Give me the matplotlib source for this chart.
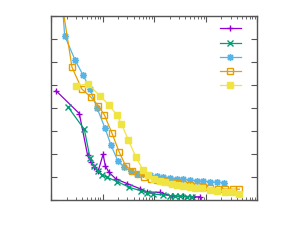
import matplotlib
matplotlib.use('Agg')
import matplotlib.pyplot as plt
from matplotlib.ticker import LogLocator, NullFormatter, MultipleLocator

# 数据
x_purple = [1.25, 3.53, 5.1, 5.96, 6.81, 8.15, 10.2, 11.3, 13.3, 18.2, 30.1, 53.1,
            71.6, 129, 218, 366, 572, 772]
y_purple = [4.75, 3.76, 1.96, 1.65, 1.43, 1.24, 1.98, 1.48, 1.20, 0.91, 0.71, 0.49,
            0.35, 0.33, 0.17, 0.16, 0.14, 0.14]

x_green = [2.16, 4.42, 5.70, 6.72, 8.15, 9.87, 12.4, 19.3, 32.9, 55.5, 73.5, 96.1,
           150, 202, 253, 316, 427, 533]
y_green = [4.03, 3.07, 1.83, 1.48, 1.24, 1.09, 0.98, 0.80, 0.55, 0.40, 0.32, 0.26,
           0.22, 0.19, 0.17, 0.16, 0.15, 0.14]

x_blue = [1.60, 1.84, 2.92, 4.17, 5.70, 7.79, 11.1, 14.5, 19.6, 26.4, 35.5, 46.4,
          61.5, 83, 112, 150, 202, 273, 366, 494, 666, 894, 1206, 1626, 2254]
y_blue = [9.0, 7.14, 6.09, 5.43, 4.83, 4.0, 3.13, 2.39, 1.71, 1.42, 1.24, 1.15,
          1.11, 1.07, 1.03, 1.0, 0.97, 0.93, 0.90, 0.87, 0.84, 0.81, 0.80, 0.77, 0.76]

x_orange = [1.49, 2.55, 3.94, 5.88, 8.26, 10.8, 15.0, 20.8, 28.0, 37.6, 49.2, 64.3,
            84.8, 112, 150, 202, 273, 366, 494, 666, 894, 1206, 1700, 2355, 3320, 4460]
y_orange = [9.13, 5.77, 4.83, 4.48, 4.10, 3.70, 2.93, 2.10, 1.48, 1.27, 1.15, 1.02,
            0.93, 0.87, 0.83, 0.77, 0.73, 0.68, 0.64, 0.60, 0.55, 0.52, 0.49, 0.48, 0.47, 0.47]

x_yellow = [3.05, 5.28, 8.9, 13.3, 18.8, 23.2, 31.5, 43.8, 60.7, 76.9, 99.1, 127,
            162, 218, 277, 366, 494, 618, 833, 1206, 1626, 2355, 3177, 4460]
y_yellow = [4.97, 5.04, 4.52, 4.13, 3.70, 3.30, 2.61, 1.88, 1.30, 1.09, 0.93, 0.84,
            0.77, 0.70, 0.65, 0.61, 0.58, 0.53, 0.51, 0.43, 0.40, 0.36, 0.35, 0.28]

fig = plt.figure(figsize=(2.89, 2.45), dpi=100)
ax = fig.add_axes([0.1765, 0.1837, 0.7145, 0.751])

lw = 0.9
ms = 4
ax.plot(x_purple, y_purple, color='#9400d3', marker='+', markersize=ms + 1, lw=lw, label='')
ax.plot(x_green, y_green, color='#009e73', marker='x', markersize=ms, lw=lw, label='')
ax.plot(x_blue, y_blue, color='#56b4e9', marker=(8, 2, 0), markersize=ms + 1, lw=lw, label='')
ax.plot(x_orange, y_orange, color='#e69f00', marker='s', markerfacecolor='none',
        markersize=ms + 0.5, lw=lw, label='')
ax.plot(x_yellow, y_yellow, color='#f0e442', marker='s', markersize=ms, lw=lw, label='')

ax.set_xscale('log')
ax.set_xlim(1, 1e4)
ax.set_ylim(0, 8)
ax.yaxis.set_major_locator(MultipleLocator(1))
ax.xaxis.set_major_locator(LogLocator(base=10, numticks=10))
ax.xaxis.set_minor_locator(LogLocator(base=10, subs=range(2, 10), numticks=50))
ax.xaxis.set_major_formatter(NullFormatter())
ax.xaxis.set_minor_formatter(NullFormatter())
ax.yaxis.set_major_formatter(NullFormatter())
ax.tick_params(which='both', direction='in', top=True, right=True, color='#555555')
ax.tick_params(which='major', length=4, width=0.8)
ax.tick_params(which='minor', length=2, width=0.6)
for s in ax.spines.values():
    s.set_color('#555555')
    s.set_linewidth(1.0)

handles = ax.get_lines()
ax.legend(handles, [''] * len(handles), loc='upper right', frameon=False,
          fontsize=7, handlelength=2.1, handletextpad=0.0, labelspacing=0.42,
          borderaxespad=0.6, bbox_to_anchor=(0.965, 1.01))

plt.savefig('out.png', dpi=100)
plt.close()
